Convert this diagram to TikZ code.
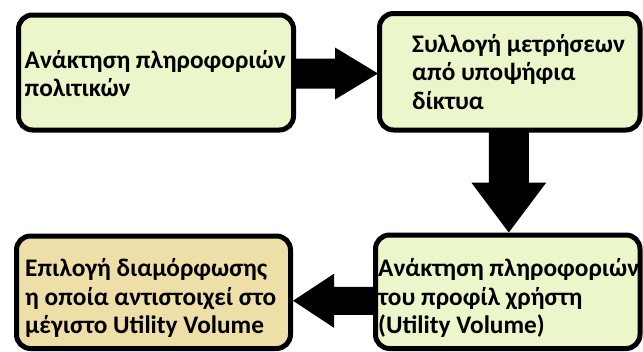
\documentclass[tikz,border=0pt]{standalone}
\usepackage{fontspec}
\setmainfont{Carlito}
\usetikzlibrary{calc}

\definecolor{boxgreen}{RGB}{235,246,203}
\definecolor{boxtan}{RGB}{238,222,168}

% left-aligned lines; the baseline of the block is that of its first line
\newcommand\textlines[1]{\vtop{\halign{##\hfil\cr#1\crcr}}}

% block arrow: name, tail, tip, shaft half-width, head half-width, head length
\newcommand\blockarrow[6]{%
  \coordinate (#1-b) at ($(#3)!#6!(#2)$);
  \fill[arrowfill] ($(#2)!#4!90:(#3)$) -- ($(#1-b)!#4!90:(#3)$)
    -- ($(#1-b)!#5!90:(#3)$) -- (#3) -- ($(#1-b)!#5!-90:(#3)$)
    -- ($(#1-b)!#4!-90:(#3)$) -- ($(#2)!#4!-90:(#3)$) -- cycle;}

\begin{document}
\begin{tikzpicture}[x=1pt,y=-1pt,
  box/.style={draw=black, line width=5pt, rounded corners=14pt,
    inner sep=0pt, outer sep=0pt},
  boxtext/.style={inner sep=0pt, anchor=base west, text=black,
    font=\bfseries\fontsize{25.3}{28.7}\selectfont},
  arrowfill/.style={fill=black}]
\useasboundingbox (0,0) rectangle (643,351);

% process steps
\node[box, fill=boxgreen, minimum width=275pt, minimum height=115pt]   (b1) at (156,72.5) {};
\node[box, fill=boxgreen, minimum width=260.5pt, minimum height=116.5pt] (b2) at (509.75,71.75) {};
\node[box, fill=boxtan,   minimum width=274pt, minimum height=112.5pt] (b3) at (153.5,292.25) {};
\node[box, fill=boxgreen, minimum width=264.5pt, minimum height=113.5pt] (b4) at (507.75,291.75) {};

\node[boxtext] (t1) at (24.5,68) {\textlines{Ανάκτηση πληροφοριών\cr πολιτικών}};
\node[boxtext] (t2) at (412,52) {\textlines{Συλλογή μετρήσεων\cr από υποψήφια\cr δίκτυα}};
\node[boxtext] (t3) at (25,276.5) {\textlines{Επιλογή διαμόρφωσης\cr η οποία αντιστοιχεί στο\cr μέγιστο Utility Volume}};
\node[boxtext] (t4) at (378,276.5) {\textlines{Ανάκτηση πληροφοριών\cr του προφίλ χρήστη\cr (Utility Volume)}};

% flow between the steps
\coordinate (a1t) at ($(b1.east)+(0,1)$);
\coordinate (a1h) at ($(b2.west |- a1t)+(-1.5,0)$);
\blockarrow{a1}{a1t}{a1h}{15pt}{26pt}{43pt}

\coordinate (a2t) at ($(b2.south)+(-1,0)$);
\coordinate (a2h) at ($(b4.north -| a2t)+(0,-2.5)$);
\blockarrow{a2}{a2t}{a2h}{20pt}{37.5pt}{50pt}

\coordinate (a3t) at ($(b4.west)+(0,9)$);
\coordinate (a3h) at ($(b3.east |- a3t)+(2.5,0)$);
\blockarrow{a3}{a3t}{a3h}{14pt}{27pt}{41pt}
\end{tikzpicture}
\end{document}
